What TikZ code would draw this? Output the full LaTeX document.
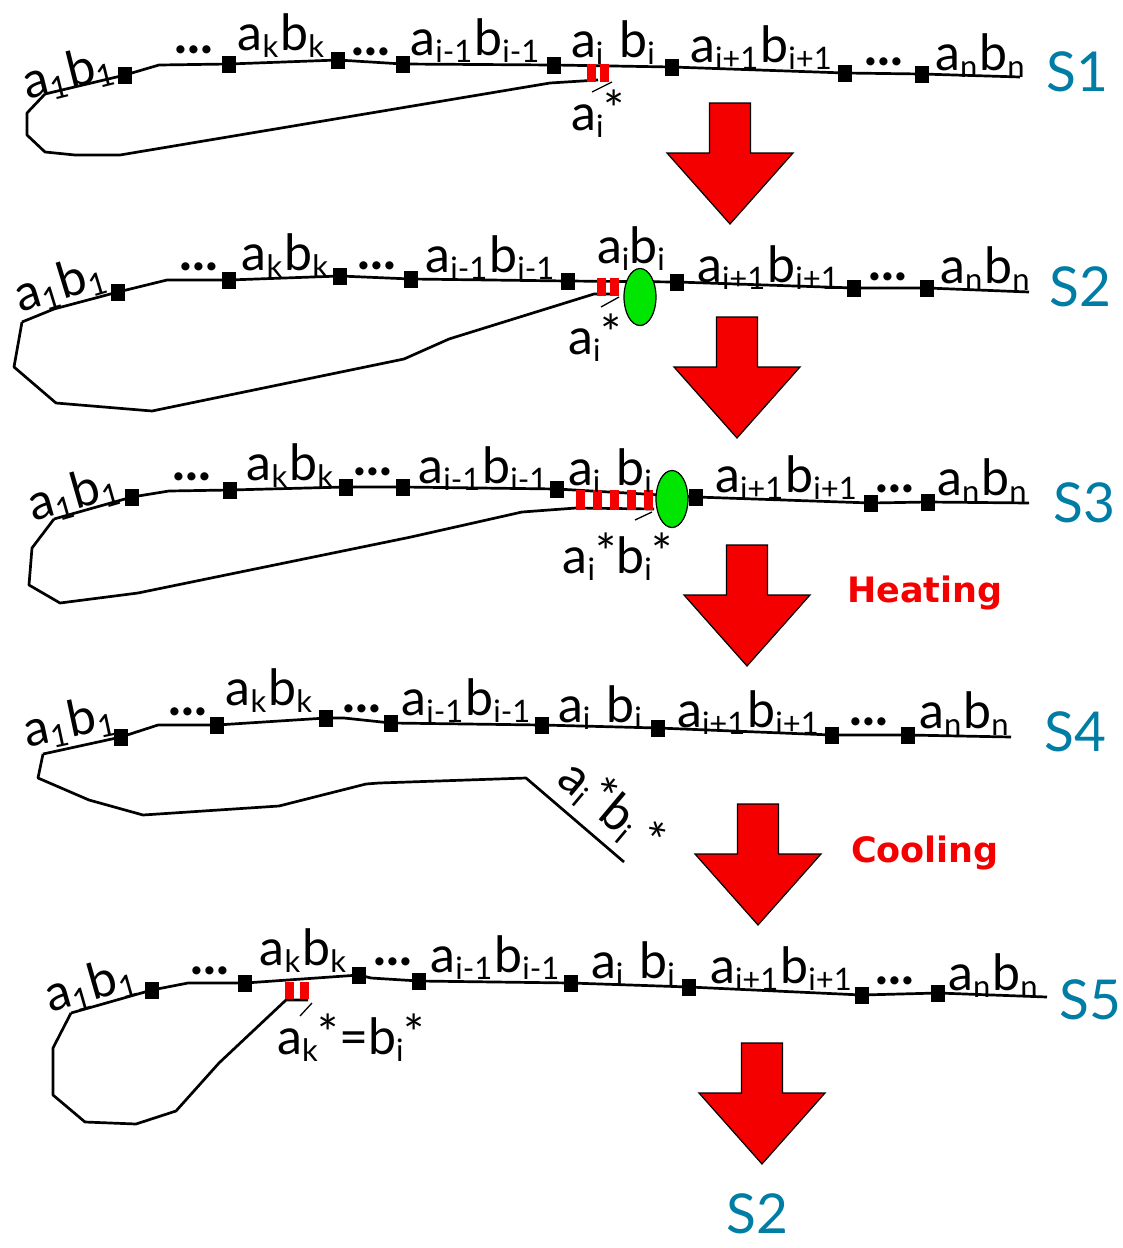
\documentclass[tikz,border=0pt]{standalone}
\usepackage{fontspec}
\setmainfont{Lato}
\newfontfamily\stagefont{DejaVu Sans}
\usepackage{tikz}
\usetikzlibrary{shapes.geometric}

\definecolor{stateblue}{RGB}{0,125,165}
\definecolor{cutred}{RGB}{245,0,0}
\definecolor{clampgreen}{RGB}{0,230,0}

% lowered index, raised star and a base pair a_x b_y
\newcommand{\lowidx}[1]{\raisebox{-0.14em}{\fontsize{31}{31}\selectfont #1}}
\newcommand{\nickstar}{\raisebox{0.05em}{*}}
\newcommand{\bp}[2]{a\lowidx{#1}\kern2pt b\lowidx{#2}}

\begin{document}
\begin{tikzpicture}[x=1pt, y=-1pt,
    backbone/.style={line width=2.7pt, line join=round},
    leader/.style={line width=1.3pt},
    bead/.style={fill=black, minimum width=14pt, minimum height=17pt, inner sep=0pt},
    nick/.style={fill=cutred, minimum width=9pt, minimum height=18pt, inner sep=0pt},
    pair/.style={font=\fontsize{50}{50}\selectfont, inner sep=0pt, anchor=base},
    dots/.style={font=\fontsize{54}{54}\selectfont\bfseries, inner sep=0pt},
    state/.style={font=\fontsize{55}{55}\selectfont, text=stateblue, inner sep=0pt},
    stage/.style={font=\stagefont\bfseries\fontsize{35}{35}\selectfont, text=cutred, inner sep=0pt},
    clamp/.style={ellipse, draw=black, fill=clampgreen, line width=1.2pt, minimum width=32pt, minimum height=57pt, inner sep=0pt},
    bigarrow/.style={draw=black, fill=cutred, line width=1.2pt, line join=miter}]
  \useasboundingbox (0,0) rectangle (1123,1248);

  % arrows between the states
  \pgfmathsetmacro{\shaftw}{41}
  \pgfmathsetmacro{\shaftl}{50}
  \pgfmathsetmacro{\headw}{126}
  \pgfmathsetmacro{\headl}{71}
  \foreach \ax/\ay in {730/103, 737/317, 747/545, 758/804, 762/1043}
    \draw[bigarrow] (\ax-\shaftw/2,\ay) -- ++(\shaftw,0) -- ++(0,\shaftl) -- ++(\headw/2-\shaftw/2,0)
      -- ++(-\headw/2,\headl) -- ++(-\headw/2,-\headl) -- ++(\headw/2-\shaftw/2,0) -- cycle;

  \node[state] (s1) at (1077,72) {S1};
  \node[state] (s2) at (1080,287) {S2};
  \node[state] (s3) at (1084,503) {S3};
  \node[state] (s4) at (1075,732) {S4};
  \node[state] (s5) at (1090,1000) {S5};
  \node[state] (s2back) at (757,1214) {S2};
  \node[stage] (heat) at (925,593) {Heating};
  \node[stage] (cool) at (925,853) {Cooling};

  % ---- S1 ----
  \coordinate (r1start) at (45,94);
  \coordinate (r1bend) at (159,65);
  \coordinate (r1end) at (1020,77);
  \foreach \x/\y [count=\i] in {125/75, 229/64, 338/60, 403/64, 554/65, 672/67, 845/73, 922/74}
    \node[bead] (r1b\i) at (\x,\y) {};
  \draw[backbone] (r1start) -- (r1b1.center) -- (r1bend) \foreach \i in {2,...,8} {-- (r1b\i.center)} -- (r1end);
  \draw[backbone] (r1start) -- (27,113) -- (27,135) -- (45,152) -- (75,155) -- (120,155) -- (550,83) -- (598,80);
  \foreach \x [count=\i] in {591,604}
    \node[nick] (r1n\i) at (\x,73) {};
  \coordinate (r1tick) at (592,92);
  \draw[leader] (r1tick) -- (612,82);
  \node[pair, anchor=center, rotate=14] (r1p1) at (68,74) {\bp{1}{1}};
  \node[dots] (r1d1) at (194,50) {...};
  \node[pair] (r1pk) at (281,50) {\bp{k}{k}};
  \node[dots] (r1d2) at (371,52) {...};
  \node[pair] (r1pa) at (475,55) {\bp{i-1}{i-1}};
  \node[pair] (r1pi) at (613,57) {a\lowidx{i}\hspace{16pt}b\lowidx{i}};
  \node[pair] (r1pb) at (761,62) {\bp{i+1}{i+1}};
  \node[dots] (r1d3) at (884,62) {...};
  \node[pair] (r1pn) at (980,70) {\bp{n}{n}};
  \node[pair] (r1cut) at (598,130) {a\lowidx{i}\nickstar};

  % ---- S2 ----
  \coordinate (r2start) at (22,322);
  \coordinate (r2kink) at (54,309);
  \coordinate (r2bend) at (167,280);
  \coordinate (r2end) at (1029,292);
  \foreach \x/\y [count=\i] in {118/292, 229/280, 340/276, 411/279, 568/281, 677/282, 854/288, 927/288}
    \node[bead] (r2b\i) at (\x,\y) {};
  \draw[backbone] (r2start) -- (r2kink) -- (r2b1.center) -- (r2bend) \foreach \i in {2,...,8} {-- (r2b\i.center)} -- (r2end);
  \draw[backbone] (r2start) -- (14,367) -- (56,403) -- (152,411) -- (404,359) -- (449,339) -- (594,294) -- (615,294);
  \foreach \x [count=\i] in {601,614}
    \node[nick] (r2n\i) at (\x,287) {};
  \node[clamp] (r2clamp) at (640,297) {};
  \coordinate (r2tick) at (601,307);
  \draw[leader] (r2tick) -- (619,297);
  \node[pair, anchor=center, rotate=17] (r2p1) at (60,285) {\bp{1}{1}};
  \node[dots] (r2d1) at (199,267) {...};
  \node[pair] (r2pk) at (285,270) {\bp{k}{k}};
  \node[dots] (r2d2) at (377,266) {...};
  \node[pair] (r2pa) at (490,272) {\bp{i-1}{i-1}};
  \node[pair] (r2pi) at (631,263) {a\lowidx{i}b\lowidx{i}};
  \node[pair] (r2pb) at (768,282) {\bp{i+1}{i+1}};
  \node[dots] (r2d3) at (888,277) {...};
  \node[pair] (r2pn) at (985,283) {\bp{n}{n}};
  \node[pair] (r2cut) at (595,354) {a\lowidx{i}\nickstar};

  % ---- S3 ----
  \coordinate (r3start) at (54,519);
  \coordinate (r3bend) at (169,491);
  \coordinate (r3end) at (1029,503);
  \foreach \x/\y [count=\i] in {132/497, 230/490, 346/487, 403/487, 557/489, 696/497, 871/503, 928/502}
    \node[bead] (r3b\i) at (\x,\y) {};
  \draw[backbone] (r3start) -- (r3b1.center) -- (r3bend) \foreach \i in {2,...,8} {-- (r3b\i.center)} -- (r3end);
  \draw[backbone] (654,509) -- (576,508) -- (522,512) -- (411,537) -- (138,593) -- (60,603) -- (29,585) -- (32,548) -- (r3start);
  \foreach \x [count=\i] in {580,597,614,631,648}
    \node[nick, minimum height=20pt] (r3n\i) at (\x,500) {};
  \node[clamp] (r3clamp) at (672,499) {};
  \coordinate (r3tick) at (635,520);
  \draw[leader] (r3tick) -- (652,512);
  \node[pair, anchor=center, rotate=16] (r3p1) at (73,495) {\bp{1}{1}};
  \node[dots] (r3d1) at (192,477) {...};
  \node[pair] (r3pk) at (290,480) {\bp{k}{k}};
  \node[dots] (r3d2) at (373,472) {...};
  \node[pair] (r3pa) at (483,483) {\bp{i-1}{i-1}};
  \node[pair] (r3pi) at (610,485) {a\lowidx{i}\hspace{16pt}b\lowidx{i}};
  \node[pair] (r3pb) at (786,492) {\bp{i+1}{i+1}};
  \node[dots] (r3d3) at (895,489) {...};
  \node[pair] (r3pn) at (982,495) {\bp{n}{n}};
  \node[pair] (r3cut) at (618,573) {a\lowidx{i}\nickstar b\lowidx{i}\nickstar};

  % ---- S4 ----
  \coordinate (r4start) at (43,754);
  \coordinate (r4bend) at (158,725);
  \coordinate (r4knee) at (344,718);
  \coordinate (r4end) at (1011,737);
  \foreach \x/\y [count=\i] in {121/737, 217/725, 326/718, 391/723, 542/725, 658/728, 832/735, 908/735}
    \node[bead] (r4b\i) at (\x,\y) {};
  \draw[backbone] (r4start) -- (r4b1.center) -- (r4bend) -- (r4b2.center) -- (r4b3.center) -- (r4knee)
    \foreach \i in {4,...,8} {-- (r4b\i.center)} -- (r4end);
  \coordinate (r4free) at (624,862);
  \draw[backbone] (r4start) -- (38,778) -- (89,800) -- (143,815) -- (279,806) -- (366,784) -- (379,783) -- (526,778) -- (r4free);
  \node[pair, anchor=center, rotate=12] (r4p1) at (69,723) {\bp{1}{1}};
  \node[dots] (r4d1) at (188,712) {...};
  \node[pair] (r4pk) at (269,705) {\bp{k}{k}};
  \node[dots] (r4d2) at (362,709) {...};
  \node[pair] (r4pa) at (466,715) {\bp{i-1}{i-1}};
  \node[pair] (r4pi) at (600,722) {a\lowidx{i}\hspace{16pt}b\lowidx{i}};
  \node[pair] (r4pb) at (748,727) {\bp{i+1}{i+1}};
  \node[dots] (r4d3) at (869,722) {...};
  \node[pair] (r4pn) at (964,728) {\bp{n}{n}};
  \node[pair, anchor=center, rotate=-40] (r4cut) at (612,808) {a\lowidx{i}\nickstar b\lowidx{i}\,*};

  % ---- S5 ----
  \coordinate (r5start) at (71,1013);
  \coordinate (r5bend) at (188,983);
  \coordinate (r5knee) at (371,978);
  \coordinate (r5end) at (1047,997);
  \foreach \x/\y [count=\i] in {152/990, 245/983, 359/975, 419/981, 571/983, 689/987, 862/995, 938/993}
    \node[bead] (r5b\i) at (\x,\y) {};
  \draw[backbone] (r5start) -- (r5b1.center) -- (r5bend) -- (r5b2.center) -- (r5b3.center) -- (r5knee)
    \foreach \i in {4,...,8} {-- (r5b\i.center)} -- (r5end);
  \draw[backbone] (308,1000) -- (286,1000) -- (219,1063) -- (176,1111) -- (136,1124) -- (85,1122) -- (53,1095) -- (53,1048) -- (r5start);
  \foreach \x [count=\i] in {289,304}
    \node[nick, minimum height=17pt] (r5n\i) at (\x,990) {};
  \coordinate (r5tick) at (300,1016);
  \draw[leader] (r5tick) -- (312,1003);
  \node[pair, anchor=center, rotate=16] (r5p1) at (90,986) {\bp{1}{1}};
  \node[dots] (r5d1) at (210,971) {...};
  \node[pair] (r5pk) at (303,965) {\bp{k}{k}};
  \node[dots] (r5d2) at (393,962) {...};
  \node[pair] (r5pa) at (495,972) {\bp{i-1}{i-1}};
  \node[pair] (r5pi) at (633,978) {a\lowidx{i}\hspace{16pt}b\lowidx{i}};
  \node[pair] (r5pb) at (781,983) {\bp{i+1}{i+1}};
  \node[dots] (r5d3) at (895,981) {...};
  \node[pair] (r5pn) at (993,990) {\bp{n}{n}};
  \node[pair] (r5cut) at (351,1054) {a\lowidx{k}\nickstar=b\lowidx{i}\nickstar};
\end{tikzpicture}
\end{document}
